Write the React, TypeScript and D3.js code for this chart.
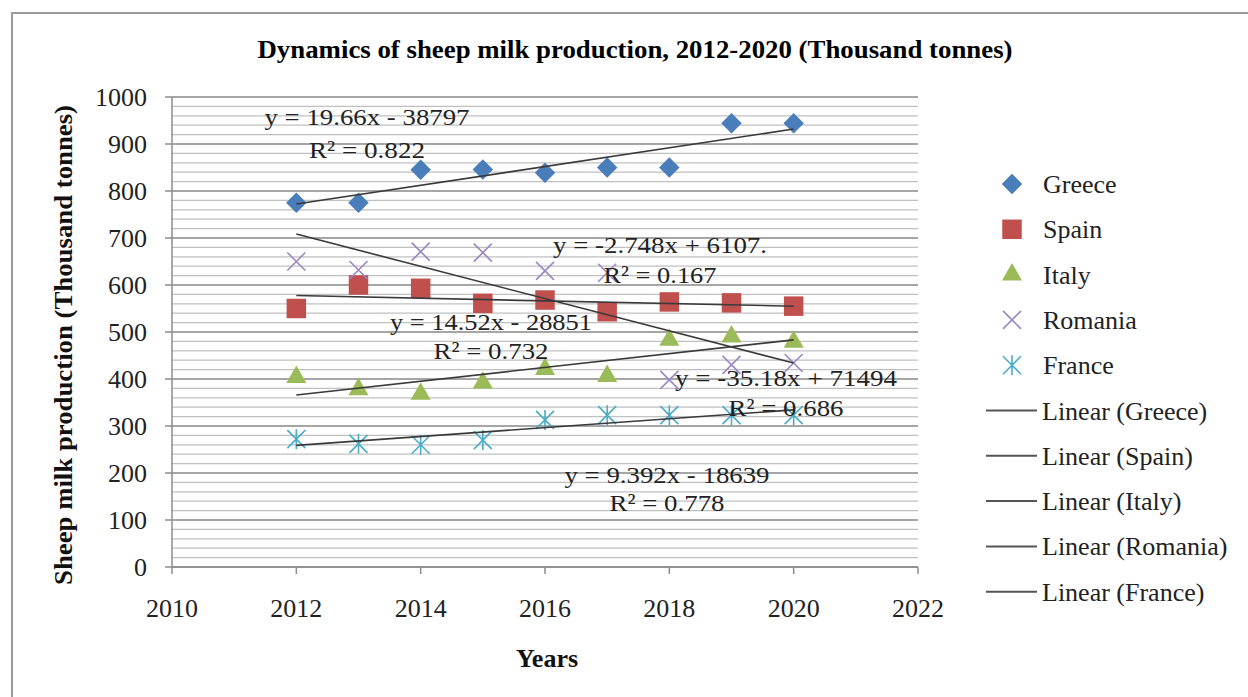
import React from "react";
import * as d3 from "d3";

// Sheep milk production, thousand tonnes
const years = [2012, 2013, 2014, 2015, 2016, 2017, 2018, 2019, 2020];
const greece = [775, 775, 845, 846, 839, 850, 850, 944, 944];
const spain = [550, 600, 593, 561, 568, 543, 564, 562, 555];
const italy = [404, 378, 368, 392, 421, 406, 483, 490, 479];
const romania = [650, 632, 671, 669, 630, 626, 398, 430, 434];
const france = [272, 262, 260, 270, 313, 323, 323, 323, 323];

const seriesNames = ["Greece", "Spain", "Italy", "Romania", "France"];
const seriesValues = [greece, spain, italy, romania, france];
const seriesColors = ["#4a7ebb", "#c0504d", "#9bbb59", "#9a87c4", "#4bacc6"];

const trendEquations = [
  "y = 19.66x - 38797",
  "y = -2.748x + 6107.",
  "y = 14.52x - 28851",
  "y = -35.18x + 71494",
  "y = 9.392x - 18639",
];
const trendR2 = ["R² = 0.822", "R² = 0.167", "R² = 0.732", "R² = 0.686", "R² = 0.778"];

const xTicks = [2010, 2012, 2014, 2016, 2018, 2020, 2022];
const yTicks = [0, 100, 200, 300, 400, 500, 600, 700, 800, 900, 1000];
const yMinor = d3.range(0, 1001, 20);

// where each trend label pair sits (centre x, baseline of equation, baseline of R², widths)
const labelLayout = [
  { cx: 367, eqY: 125, r2Y: 158, eqW: 205, r2W: 116 },
  { cx: 660, eqY: 253, r2Y: 283, eqW: 214, r2W: 113 },
  { cx: 491, eqY: 330, r2Y: 359, eqW: 202, r2W: 115 },
  { cx: 786, eqY: 386, r2Y: 416, eqW: 222, r2W: 115 },
  { cx: 667, eqY: 483, r2Y: 511, eqW: 205, r2W: 115 },
];

const serif = "'Liberation Serif', 'Times New Roman', serif";

const x = d3.scaleLinear().domain([2010, 2022]).range([172, 918]);
const y = d3.scaleLinear().domain([0, 1000]).range([567, 97]);

function linearFit(xs: number[], ys: number[]) {
  const mx = d3.mean(xs) as number;
  const my = d3.mean(ys) as number;
  let sxy = 0;
  let sxx = 0;
  xs.forEach((xv, i) => {
    sxy += (xv - mx) * (ys[i] - my);
    sxx += (xv - mx) * (xv - mx);
  });
  const slope = sxy / sxx;
  return (xv: number) => my + slope * (xv - mx);
}

function Marker({ kind, color }: { kind: number; color: string }) {
  if (kind === 0) {
    return <path d={d3.symbol(d3.symbolSquare, 210)() as string} transform="rotate(45)" fill={color} />;
  }
  if (kind === 1) {
    return <path d={d3.symbol(d3.symbolSquare, 380)() as string} fill={color} />;
  }
  if (kind === 2) {
    return <path d={d3.symbol(d3.symbolTriangle, 175)() as string} fill={color} />;
  }
  if (kind === 3) {
    return <path d="M-9,-9L9,9M-9,9L9,-9" stroke={color} strokeWidth={1.6} fill="none" />;
  }
  return <path d="M-9,-9L9,9M-9,9L9,-9M0,-10V10" stroke={color} strokeWidth={1.6} fill="none" />;
}

export default function App() {
  const trendLine = d3
    .line<number[]>()
    .x((d) => x(d[0]))
    .y((d) => y(d[1]));

  return (
    <svg
      width={1248}
      height={697}
      style={{ position: "fixed", left: 0, top: 0, background: "#fff" }}
      fontFamily={serif}
    >
      <rect x={0} y={0} width={1248} height={697} fill="#fff" />
      {/* chart frame */}
      <rect x={12} y={13} width={1300} height={760} fill="none" stroke="#9a9a9a" strokeWidth={2} />

      <text
        x={635}
        y={58}
        textAnchor="middle"
        fontWeight="bold"
        fontSize={25}
        textLength={755}
        lengthAdjust="spacingAndGlyphs"
      >
        Dynamics of sheep milk production, 2012-2020 (Thousand tonnes)
      </text>

      {/* gridlines */}
      {yMinor.map((v) => (
        <line key={"m" + v} x1={x(2010)} x2={x(2022)} y1={y(v)} y2={y(v)} stroke="#c0c0c0" strokeWidth={1.3} />
      ))}
      {yTicks.map((v) => (
        <line key={"g" + v} x1={x(2010)} x2={x(2022)} y1={y(v)} y2={y(v)} stroke="#999" strokeWidth={1.6} />
      ))}

      {/* axes */}
      <line x1={x(2010)} x2={x(2010)} y1={y(0)} y2={y(1000)} stroke="#8c8c8c" strokeWidth={1.5} />
      <line x1={x(2010)} x2={x(2022)} y1={y(0)} y2={y(0)} stroke="#8c8c8c" strokeWidth={1.5} />
      {yTicks.map((v) => (
        <g key={"yt" + v}>
          <line x1={x(2010) - 7} x2={x(2010)} y1={y(v)} y2={y(v)} stroke="#8c8c8c" strokeWidth={1.5} />
          <text x={147} y={y(v) + 9} textAnchor="end" fontSize={26} fill="#222">
            {v}
          </text>
        </g>
      ))}
      {xTicks.map((v) => (
        <g key={"xt" + v}>
          <line x1={x(v)} x2={x(v)} y1={y(0)} y2={y(0) + 7} stroke="#8c8c8c" strokeWidth={1.5} />
          <text x={x(v)} y={617} textAnchor="middle" fontSize={26} fill="#222">
            {v}
          </text>
        </g>
      ))}

      <text x={547} y={667} textAnchor="middle" fontWeight="bold" fontSize={26} fill="#111">
        Years
      </text>
      <text
        transform="translate(72,345) rotate(-90)"
        textAnchor="middle"
        fontWeight="bold"
        fontSize={25}
        textLength={480}
        lengthAdjust="spacingAndGlyphs"
        fill="#111"
      >
        Sheep milk production (Thousand tonnes)
      </text>

      {/* data markers */}
      {seriesValues.map((vals, si) =>
        vals.map((v, i) => (
          <g key={si + "-" + i} transform={`translate(${x(years[i])},${y(v)})`}>
            <Marker kind={si} color={seriesColors[si]} />
          </g>
        ))
      )}

      {/* linear trend lines */}
      {seriesValues.map((vals, si) => {
        const f = linearFit(years, vals);
        const x0 = years[0];
        const x1 = years[years.length - 1];
        return (
          <path
            key={"tr" + si}
            d={trendLine([
              [x0, f(x0)],
              [x1, f(x1)],
            ]) as string}
            stroke="#3a3a3a"
            strokeWidth={1.6}
            fill="none"
          />
        );
      })}

      {/* trend equations */}
      {labelLayout.map((l, i) => (
        <g key={"lab" + i} fontSize={24} fill="#222">
          <text x={l.cx} y={l.eqY} textAnchor="middle" textLength={l.eqW} lengthAdjust="spacingAndGlyphs">
            {trendEquations[i]}
          </text>
          <text x={l.cx} y={l.r2Y} textAnchor="middle" textLength={l.r2W} lengthAdjust="spacingAndGlyphs">
            {trendR2[i]}
          </text>
        </g>
      ))}

      {/* legend */}
      {seriesNames.map((name, i) => {
        const cy = 184 + i * 45.3;
        return (
          <g key={"lg" + i}>
            <g transform={`translate(1012,${cy})`}>
              <Marker kind={i} color={seriesColors[i]} />
            </g>
            <text x={1043} y={cy + 9} fontSize={26} fill="#222">
              {name}
            </text>
          </g>
        );
      })}
      {seriesNames.map((name, i) => {
        const cy = 184 + (i + 5) * 45.3;
        return (
          <g key={"ll" + i}>
            <line x1={986} x2={1037} y1={cy} y2={cy} stroke="#555" strokeWidth={2} />
            <text x={1042} y={cy + 9} fontSize={26} fill="#222">
              {`Linear (${name})`}
            </text>
          </g>
        );
      })}
    </svg>
  );
}
